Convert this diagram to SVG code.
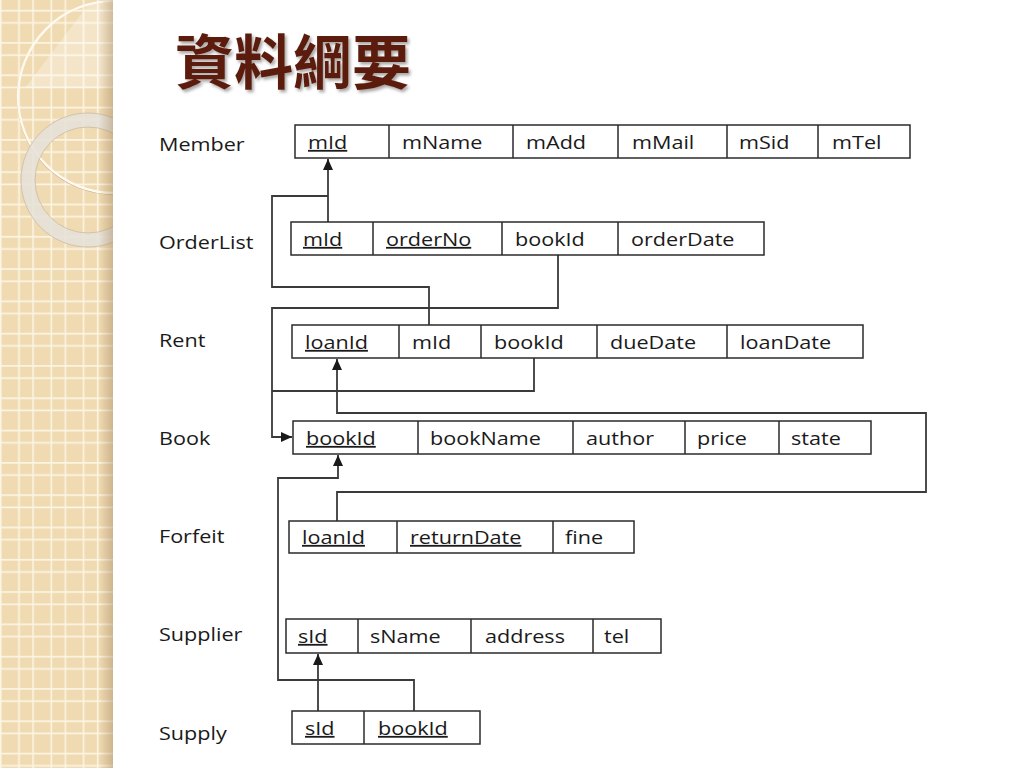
<svg xmlns="http://www.w3.org/2000/svg" width="1024" height="768" viewBox="0 0 1024 768">
<style>
.f{font-family:"Open Sans","Noto Sans","Liberation Sans",sans-serif;font-size:18px;fill:#1a1a1a;transform-box:fill-box;transform-origin:0 0;transform:scaleX(1.2)}
.u{text-decoration:underline}
.tb{fill:#fff;stroke:#2b2b2b;stroke-width:1.5}
.dv{fill:none;stroke:#2b2b2b;stroke-width:1.5}
.cn{fill:none;stroke:#3a3a3a;stroke-width:1.8}
.ar{marker-end:url(#ah)}
.title{font-family:"Noto Sans CJK TC","Noto Sans CJK SC",sans-serif;font-size:59px;font-weight:bold;fill:#5b1c0c}
</style>
<defs>
<pattern id="grid" patternUnits="userSpaceOnUse" width="32.3" height="32.3">
<rect width="32.3" height="32.3" fill="#efdab2"/>
<path d="M0.75,0V32.3M19,0V32.3M0,10.6H32.3M0,22.9H32.3" stroke="#fcf5e3" stroke-width="1.6"/>
</pattern>
<linearGradient id="shade" x1="0" y1="0" x2="1" y2="0">
<stop offset="0" stop-color="#9a7a50" stop-opacity="0"/>
<stop offset="1" stop-color="#9a7a50" stop-opacity="0.4"/>
</linearGradient>
<clipPath id="panel"><rect x="0" y="0" width="113" height="768"/></clipPath>
<clipPath id="bigc"><circle cx="114" cy="97" r="96"/></clipPath>
<filter id="tsh" x="-10%" y="-10%" width="130%" height="140%">
<feDropShadow dx="2" dy="2.5" stdDeviation="1.5" flood-color="#000" flood-opacity="0.35"/>
</filter>
<marker id="ah" viewBox="0 0 11 11" refX="11" refY="5.5" markerWidth="11" markerHeight="11" markerUnits="userSpaceOnUse" orient="auto">
<path d="M0,0.5L11,5.5L0,10.5z" fill="#1a1a1a"/>
</marker>
</defs>

<rect width="1024" height="768" fill="#fff"/>

<g id="side-panel" clip-path="url(#panel)">
<rect x="0" y="0" width="113" height="768" fill="url(#grid)"/>
<g clip-path="url(#bigc)">
<polygon points="25,88 92,0 113,0 113,88" fill="#fff" opacity="0.3"/>
</g>
<circle cx="114" cy="97.8" r="96.5" fill="none" stroke="#a88f6a" stroke-width="1.2" opacity="0.6"/>
<circle cx="114" cy="97" r="96" fill="none" stroke="#fffaf0" stroke-width="2.4"/>
<circle cx="88" cy="180" r="60" fill="none" stroke="#e6e1d9" stroke-width="14" opacity="0.88"/>
<circle cx="88" cy="180" r="67" fill="none" stroke="#c8bba4" stroke-width="0.8"/>
<circle cx="88" cy="180" r="53" fill="none" stroke="#c8bba4" stroke-width="0.8"/>
<rect x="99" y="0" width="14" height="768" fill="url(#shade)"/>
</g>

<text class="title" x="175" y="84" filter="url(#tsh)">資料綱要</text>

<g id="connectors">
<path class="cn ar" d="M328,222V159"/>
<path class="cn" d="M429,325V287H272V196H328"/>
<path class="cn ar" d="M558,255V308H272V437H292"/>
<path class="cn" d="M534,358V391H272"/>
<path class="cn ar" d="M337,521V492H926V413H337V359"/>
<path class="cn ar" d="M414,711V680H278V478H338V455"/>
<path class="cn ar" d="M318,711V654"/>
</g>

<g id="member">
<text class="f" x="159" y="151">Member</text>
<rect class="tb" x="295" y="125" width="615" height="33"/>
<path class="dv" d="M389,125V158M513,125V158M618,125V158M727,125V158M818,125V158"/>
<text class="f u" x="308" y="149">mId</text>
<text class="f" x="402" y="149">mName</text>
<text class="f" x="526" y="149">mAdd</text>
<text class="f" x="632" y="149">mMail</text>
<text class="f" x="739" y="149">mSid</text>
<text class="f" x="832" y="149">mTel</text>
</g>

<g id="orderlist">
<text class="f" x="159" y="249">OrderList</text>
<rect class="tb" x="291" y="222" width="473" height="33"/>
<path class="dv" d="M373,222V255M502,222V255M618,222V255"/>
<text class="f u" x="303" y="246">mId</text>
<text class="f u" x="386" y="246">orderNo</text>
<text class="f" x="515" y="246">bookId</text>
<text class="f" x="631" y="246">orderDate</text>
</g>

<g id="rent">
<text class="f" x="159" y="347">Rent</text>
<rect class="tb" x="292" y="325" width="571" height="33"/>
<path class="dv" d="M399,325V358M481,325V358M597,325V358M727,325V358"/>
<text class="f u" x="305" y="349">loanId</text>
<text class="f" x="412" y="349">mId</text>
<text class="f" x="494" y="349">bookId</text>
<text class="f" x="610" y="349">dueDate</text>
<text class="f" x="740" y="349">loanDate</text>
</g>

<g id="book">
<text class="f" x="159" y="445">Book</text>
<rect class="tb" x="293" y="421" width="578" height="33"/>
<path class="dv" d="M418,421V454M573,421V454M685,421V454M779,421V454"/>
<text class="f u" x="306" y="445">bookId</text>
<text class="f" x="430" y="445">bookName</text>
<text class="f" x="586" y="445">author</text>
<text class="f" x="697" y="445">price</text>
<text class="f" x="791" y="445">state</text>
</g>

<g id="forfeit">
<text class="f" x="159" y="543">Forfeit</text>
<rect class="tb" x="289" y="521" width="345" height="32"/>
<path class="dv" d="M397,521V553M553,521V553"/>
<text class="f u" x="302" y="544">loanId</text>
<text class="f u" x="410" y="544">returnDate</text>
<text class="f" x="565" y="544">fine</text>
</g>

<g id="supplier">
<text class="f" x="159" y="641">Supplier</text>
<rect class="tb" x="286" y="619" width="375" height="34"/>
<path class="dv" d="M358,619V653M471,619V653M593,619V653"/>
<text class="f u" x="298" y="643">sId</text>
<text class="f" x="370" y="643">sName</text>
<text class="f" x="485" y="643">address</text>
<text class="f" x="604" y="643">tel</text>
</g>

<g id="supply">
<text class="f" x="159" y="740">Supply</text>
<rect class="tb" x="292" y="711" width="188" height="33"/>
<path class="dv" d="M364,711V744"/>
<text class="f u" x="305" y="735">sId</text>
<text class="f u" x="378" y="735">bookId</text>
</g>
</svg>
